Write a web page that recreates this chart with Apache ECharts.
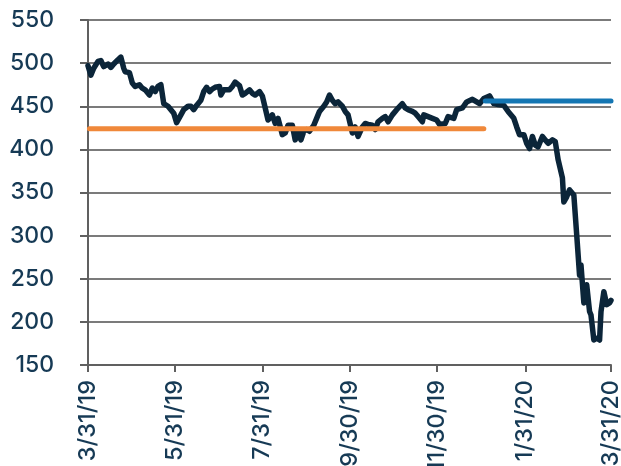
<!DOCTYPE html>
<html>
<head>
<meta charset="utf-8">
<script src="https://cdn.jsdelivr.net/npm/echarts@6/dist/echarts.min.js"></script>
<style>
html,body{margin:0;padding:0;background:#fff;}
#chart{width:621px;height:466px;}
</style>
</head>
<body>
<div id="chart"></div>
<script>
// ---- data ----
const dates = [
 '2019-03-31','2019-04-02','2019-04-04','2019-04-07','2019-04-09','2019-04-11','2019-04-14','2019-04-16','2019-04-18','2019-04-21',
 '2019-04-23','2019-04-25','2019-04-26','2019-04-29','2019-05-01','2019-05-03','2019-05-06','2019-05-08','2019-05-10','2019-05-13',
 '2019-05-15','2019-05-17','2019-05-19','2019-05-20','2019-05-21','2019-05-23','2019-05-26','2019-05-28','2019-05-30','2019-06-01',
 '2019-06-04','2019-06-06','2019-06-09','2019-06-11','2019-06-13','2019-06-15','2019-06-18','2019-06-20','2019-06-22','2019-06-24',
 '2019-06-26','2019-06-28','2019-07-01','2019-07-02','2019-07-04','2019-07-08','2019-07-10','2019-07-12','2019-07-15','2019-07-17',
 '2019-07-19','2019-07-22','2019-07-24','2019-07-26','2019-07-29','2019-07-31','2019-08-02','2019-08-04','2019-08-07','2019-08-09',
 '2019-08-11','2019-08-14','2019-08-16','2019-08-18','2019-08-21','2019-08-23','2019-08-25','2019-08-27','2019-08-29','2019-08-31',
 '2019-09-02','2019-09-05','2019-09-07','2019-09-09','2019-09-12','2019-09-14','2019-09-16','2019-09-18','2019-09-20','2019-09-22',
 '2019-09-25','2019-09-27','2019-09-29','2019-10-02','2019-10-04','2019-10-06','2019-10-09','2019-10-11','2019-10-13','2019-10-16',
 '2019-10-18','2019-10-20','2019-10-23','2019-10-25','2019-10-27','2019-10-30','2019-11-02','2019-11-06','2019-11-08','2019-11-10',
 '2019-11-13','2019-11-15','2019-11-17','2019-11-20','2019-11-21','2019-11-24','2019-11-27','2019-11-30','2019-12-02','2019-12-06',
 '2019-12-08','2019-12-12','2019-12-14','2019-12-18','2019-12-21','2019-12-25','2019-12-28','2019-12-30','2020-01-02','2020-01-06',
 '2020-01-09','2020-01-12','2020-01-16','2020-01-19','2020-01-23','2020-01-25','2020-01-27','2020-01-30','2020-02-01','2020-02-03',
 '2020-02-05','2020-02-07','2020-02-09','2020-02-12','2020-02-14','2020-02-16','2020-02-19','2020-02-21','2020-02-23','2020-02-26',
 '2020-02-27','2020-02-29','2020-03-02','2020-03-05','2020-03-07','2020-03-09','2020-03-10','2020-03-12','2020-03-14','2020-03-16',
 '2020-03-17','2020-03-19','2020-03-21','2020-03-23','2020-03-24','2020-03-26','2020-03-28','2020-03-30','2020-03-31'
];
const values = [
 497,486,494,502,503,496,499,495,499,504,
 507,494,490,489,477,473,475,471,469,463,
 471,467,473,471,475,453,450,446,442,431,
 440,446,450,450,446,451,457,467,472,467,
 470,472,473,463,469,469,473,478,474,463,
 465,469,465,463,467,462,448,434,440,430,
 436,417,419,428,428,411,421,411,421,423,
 421,428,436,444,450,455,463,457,453,455,
 450,444,440,419,426,415,426,430,429,428,
 423,432,436,438,432,440,446,453,448,446,
 444,442,438,432,440,438,436,434,429,430,
 438,436,446,448,455,458,455,453,459,462,
 453,452,451,444,436,426,417,417,407,401,
 415,405,403,415,411,407,411,409,388,367,
 339,345,353,347,301,254,266,222,243,212,
 208,179,181,179,212,235,220,222,225
];
const orangeDates = ['2019-04-01','2020-01-02'];
const orangeValues = [424, 424];
const blueDates = ['2020-01-03','2020-03-31'];
const blueValues = [456, 456];
const tickDates = ['2019-03-31','2019-05-31','2019-07-31','2019-09-30','2019-11-30','2020-01-31','2020-03-31'];
const yMin = 150, yMax = 550, yStep = 50;

// ---- chart ----
function ts(s){ const p = s.split('-').map(Number); return Date.UTC(p[0], p[1]-1, p[2]); }
function pairs(ds, vs){ return ds.map((d,i)=>[ts(d), vs[i]]); }
const tickTs = tickDates.map(ts);
const labelColor = '#163a55';
const font = 'Inter';

const chart = echarts.init(document.getElementById('chart'), null, {renderer:'canvas'});
chart.setOption({
  animation: false,
  backgroundColor: '#ffffff',
  grid: {left: 88, right: 10, top: 20, bottom: 101, containLabel: false, outerBoundsMode: 'none'},
  xAxis: {
    type: 'value',
    min: tickTs[0],
    max: tickTs[tickTs.length-1],
    axisLine: {show: true, lineStyle: {color: '#606060', width: 2}},
    axisTick: {show: true, length: 7, lineStyle: {color: '#606060', width: 2}, customValues: tickTs},
    axisLabel: {
      customValues: tickTs,
      rotate: 90,
      margin: 15,
      color: labelColor,
      fontFamily: font,
      fontWeight: 500,
      fontSize: 23.5,
      hideOverlap: false,
      formatter: function(v){ const d = new Date(v); return (d.getUTCMonth()+1)+'/'+d.getUTCDate()+'/'+String(d.getUTCFullYear()).slice(2); }
    },
    splitLine: {show: false}
  },
  yAxis: {
    type: 'value',
    min: yMin, max: yMax, interval: yStep,
    axisLine: {show: true, lineStyle: {color: '#606060', width: 2}},
    axisTick: {show: true, length: 8, lineStyle: {color: '#606060', width: 2}},
    axisLabel: {margin: 34, color: labelColor, fontFamily: font, fontWeight: 500, fontSize: 23},
    splitLine: {show: true, lineStyle: {color: '#7b7b7b', width: 2}}
  },
  series: [
    {type: 'line', data: pairs(dates, values), showSymbol: false, symbol: 'none',
     lineStyle: {color: '#0b2539', width: 5.5, join: 'round', cap: 'round'}, z: 2},
    {type: 'line', data: pairs(orangeDates, orangeValues), showSymbol: false, symbol: 'none',
     lineStyle: {color: '#f0883a', width: 5, cap: 'round'}, z: 3},
    {type: 'line', data: pairs(blueDates, blueValues), showSymbol: false, symbol: 'none',
     lineStyle: {color: '#1476b3', width: 5, cap: 'round'}, z: 4}
  ]
});
</script>
</body>
</html>
